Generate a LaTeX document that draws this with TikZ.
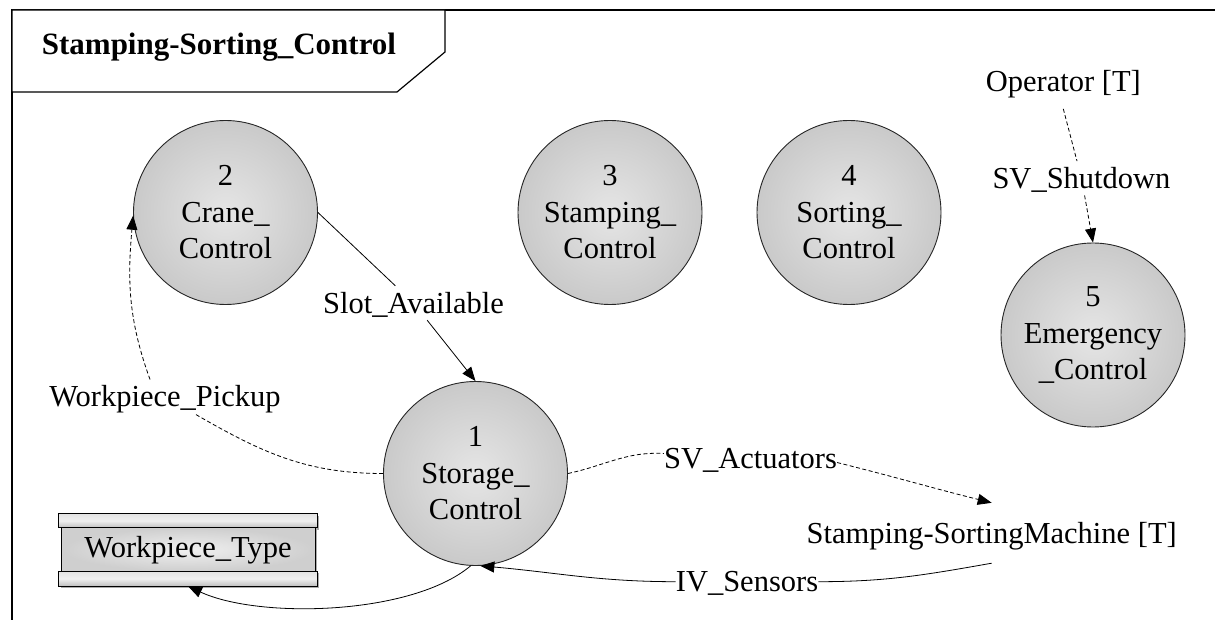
\documentclass[tikz,border=0pt]{standalone}
\usepackage{fontspec}
\setmainfont{Liberation Serif}
\usetikzlibrary{arrows.meta,calc,backgrounds}

\begin{document}
\begin{tikzpicture}[x=1pt,y=1pt,
  txt/.style={font=\fontsize{30.5}{36.5}\selectfont},
  proc/.style={circle, draw=black!85, line width=0.9pt, minimum size=184pt,
    inner sep=0pt, align=center, inner color=gray!20, outer color=gray!42, txt},
  flowlbl/.style={txt, inner sep=0pt, text height=27pt, text depth=7pt, anchor=base},
  term/.style={txt, inner xsep=2pt, inner ysep=10pt, text height=27pt, text depth=7pt, anchor=base},
  store/.style={txt, minimum width=258pt, minimum height=72pt, inner sep=0pt},
  flow/.style={line width=0.8pt, -{Triangle[length=14pt,width=11pt]}},
  flowdash/.style={flow, dash pattern=on 4pt off 2.5pt},
  frameline/.style={line width=1.2pt},
]
\useasboundingbox (0,0) rectangle (1215,-620);

% outer frame and title tab
\draw[frameline] (12,-620) -- (12,-10) -- (1215,-10);
\draw[frameline, fill=white] (12,-10) -- (445,-10) -- (445,-52) -- (397,-92) -- (12,-92) -- cycle;
\node[font=\fontsize{31}{36}\selectfont\bfseries, anchor=base] (title) at (219,-55) {Stamping-Sorting\_Control};

% processes
\node[proc] (c1) at (475.5,-473.5) {1\\Storage\_\\Control};
\node[proc] (c2) at (225.5,-212.5) {2\\Crane\_\\Control};
\node[proc] (c3) at (610,-212.5) {3\\Stamping\_\\Control};
\node[proc] (c4) at (849,-212.5) {4\\Sorting\_\\Control};
\node[proc] (c5) at (1093,-335) {5\\Emergency\\\_Control};

% terminators
\node[term] (op) at (1063.3,-91.7) {Operator [T]};
\node[term, inner ysep=13pt] (ssm) at (991.7,-543) {Stamping-SortingMachine [T]};

% data store
\node[store] (ds) at (188,-550) {Workpiece\_Type};
\begin{pgfonlayer}{background}
  \fill[gray!65] ($(ds.north west)+(2,-2)$) rectangle ($(ds.north east)+(2,-16)$);
  \fill[gray!65] ($(ds.south west)+(2,13)$) rectangle ($(ds.south east)+(2,-2)$);
  \fill[gray!65] ($(ds.north west)+(5,-16)$) rectangle ($(ds.south east)+(0,13)$);
  \draw[line width=0.8pt, shading=radial, inner color=gray!12, outer color=gray!38]
    ($(ds.north west)+(3,-14)$) rectangle ($(ds.south east)+(-2,15)$);
  \draw[line width=0.8pt, top color=gray!22, bottom color=gray!50, middle color=gray!12]
    (ds.north west) rectangle ($(ds.north east)+(0,-14)$);
  \draw[line width=0.8pt, top color=gray!22, bottom color=gray!50, middle color=gray!12]
    ($(ds.south west)+(0,15)$) rectangle (ds.south east);
\end{pgfonlayer}

% flow labels
\node[flowlbl] (slot) at (413.5,-313) {Slot\_Available};
\node[flowlbl] (wp) at (165,-406.7) {Workpiece\_Pickup};
\node[flowlbl] (act) at (750.5,-468) {SV\_Actuators};
\node[flowlbl] (ivs) at (747,-591.7) {IV\_Sensors};
\node[flowlbl] (sd) at (1081.5,-188.3) {SV\_Shutdown};

% flows
\draw[flow] (c2.east) -- (slot) -- (c1.north);
\draw[flowdash] (c1.west) to[out=180,in=-30] (wp)
  (wp.131) to[out=110,in=-95] (c2.182);
\draw[flowdash] (c1.east) to[out=12,in=177] (act)
  (act.-3) to[out=-14,in=166] (ssm.north);
\draw[flow] (ssm.south) to[out=190,in=0] (ivs)
  (ivs.west) to[out=180,in=-5] (c1.-87);
\draw[flow] (c1.-93) to[out=-140,in=-25,looseness=0.7] (ds.south);
\draw[flowdash] (op.south) -- (sd) -- (c5.north);
\end{tikzpicture}
\end{document}
